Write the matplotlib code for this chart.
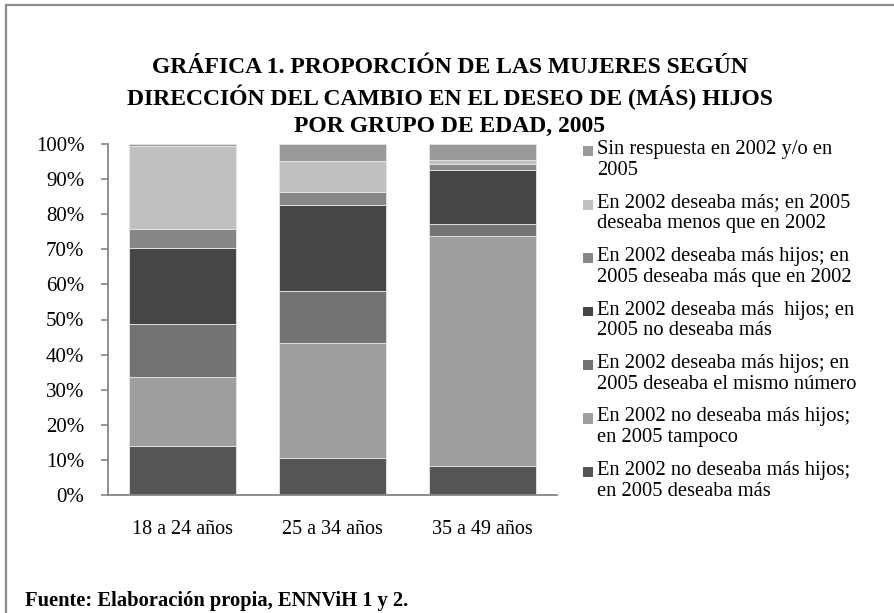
import matplotlib
matplotlib.use("Agg")
import matplotlib.pyplot as plt
from matplotlib.patches import Rectangle
import numpy as np

plt.rcParams['font.family'] = ['Liberation Serif', 'DejaVu Serif']

categories = ["18 a 24 años", "25 a 34 años", "35 a 49 años"]

# series, bottom to top
series_labels = [
    "En 2002 no deseaba más hijos;\nen 2005 deseaba más",
    "En 2002 no deseaba más hijos;\nen 2005 tampoco",
    "En 2002 deseaba más hijos; en\n2005 deseaba el mismo número",
    "En 2002 deseaba más  hijos; en\n2005 no deseaba más",
    "En 2002 deseaba más hijos; en\n2005 deseaba más que en 2002",
    "En 2002 deseaba más; en 2005\ndeseaba menos que en 2002",
    "Sin respuesta en 2002 y/o en\n2005",
]
no_mas_mas = [14.0, 10.6, 8.4]
no_tampoco = [19.5, 32.8, 65.4]
mas_mismo = [15.2, 14.6, 3.3]
mas_no_mas = [21.8, 24.6, 15.5]
mas_mas = [5.3, 3.7, 1.7]
mas_menos = [23.7, 8.9, 1.1]
sin_resp = [0.5, 4.8, 4.6]
series_values = [no_mas_mas, no_tampoco, mas_mismo, mas_no_mas, mas_mas, mas_menos, sin_resp]
series_colors = ["#555555", "#9e9e9e", "#737373", "#464646", "#878787", "#c0c0c0", "#9a9a9a"]

yticks = [0, 10, 20, 30, 40, 50, 60, 70, 80, 90, 100]
ytick_labels = [f"{t}%" for t in yticks]

title = ("GRÁFICA 1. PROPORCIÓN DE LAS MUJERES SEGÚN\n"
         "DIRECCIÓN DEL CAMBIO EN EL DESEO DE (MÁS) HIJOS\n"
         "POR GRUPO DE EDAD, 2005")
footer = "Fuente: Elaboración propia, ENNViH 1 y 2."

W, H = 895, 613
fig = plt.figure(figsize=(W / 100, H / 100), dpi=100)

def fx(px):
    return px / W

def fy(py):
    return 1 - py / H

# outer frame (top and left visible)
fig.patches.append(Rectangle((fx(6), fy(700)), 2.0, fy(5) - fy(700), transform=fig.transFigure,
                             fill=False, edgecolor="#8c8c8c", linewidth=1.6))

ax = fig.add_axes([fx(108), fy(495), fx(557) - fx(108), fy(144) - fy(495)])
x = np.arange(len(categories))
bottom = np.zeros(len(categories))
for vals, col in zip(series_values, series_colors):
    ax.bar(x, vals, width=0.715, bottom=bottom, color=col, edgecolor="#e6e6e6", linewidth=0.6)
    bottom += np.array(vals)

ax.set_xlim(-0.5, len(categories) - 0.5)
ax.set_ylim(0, 100)
ax.set_yticks(yticks)
ax.set_yticklabels(ytick_labels, fontsize=15)
ax.set_xticks(x)
ax.set_xticklabels(categories, fontsize=14.5)
ax.tick_params(axis='x', length=0, pad=18)
ax.tick_params(axis='y', length=5, width=1.2, color="#868686", pad=12)
for s in ["top", "right"]:
    ax.spines[s].set_visible(False)
for s in ["left", "bottom"]:
    ax.spines[s].set_color("#868686")
    ax.spines[s].set_linewidth(1.3)

# title
fig.text(fx(450), fy(97), title, ha="center", va="center", fontsize=17, fontweight="bold",
         linespacing=1.32)

# legend (top entry = last series)
y0 = 151
dy = 53.5
for i, (lab, col) in enumerate(zip(series_labels[::-1], series_colors[::-1])):
    yc = y0 + i * dy
    fig.patches.append(Rectangle((fx(583), fy(yc + 5)), fx(593) - fx(583), fy(yc - 5) - fy(yc + 5),
                                 transform=fig.transFigure, facecolor=col, edgecolor="none"))
    fig.text(fx(597), fy(yc - 11), lab, ha="left", va="top", fontsize=14.8, linespacing=1.12)

fig.text(fx(25), fy(601), footer, ha="left", va="center", fontsize=14.8, fontweight="bold")

fig.savefig("out.png", dpi=100)
